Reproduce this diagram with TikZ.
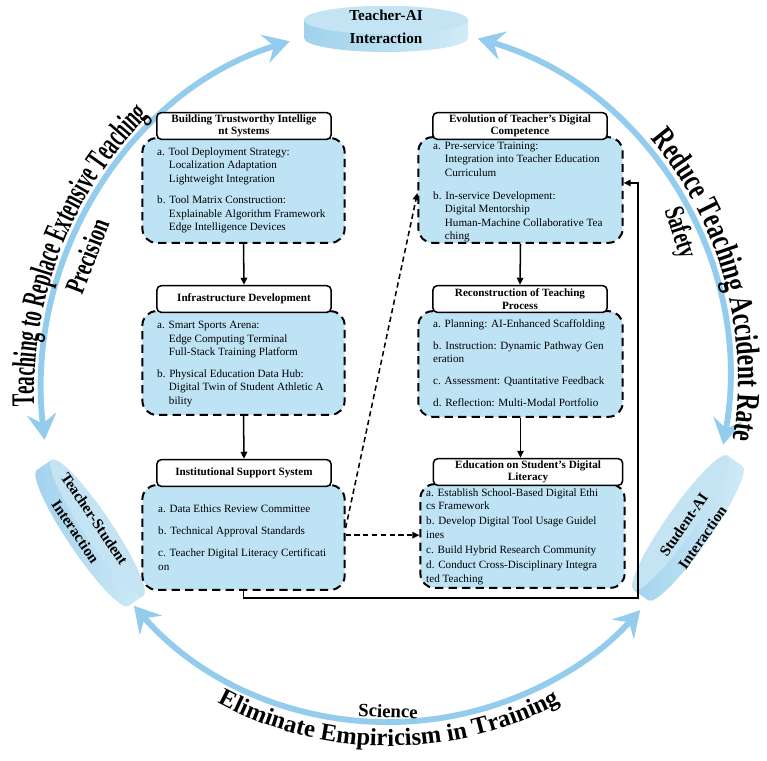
\documentclass[tikz,border=0pt]{standalone}
\usepackage{fontspec}
\setmainfont{Liberation Serif}
\newfontfamily\leftarcfam[FakeStretch=0.57]{Liberation Serif}
\newfontfamily\rightarcfam[FakeStretch=0.72]{Liberation Serif}
\newfontfamily\midarcfam[FakeStretch=0.70]{Liberation Serif}
\usetikzlibrary{arrows.meta,decorations.text}
\definecolor{bodyblue}{RGB}{189,227,245}
\definecolor{arcblue}{RGB}{148,204,238}
\definecolor{cylface}{RGB}{196,228,244}
\definecolor{cylsideA}{RGB}{160,210,236}
\definecolor{cylsideB}{RGB}{210,235,248}
\newcommand\leftarcfont{\leftarcfam\bfseries\fontsize{28}{30}\selectfont}
\newcommand\rightarcfont{\rightarcfam\bfseries\fontsize{28}{30}\selectfont}
\newcommand\midarcfont{\midarcfam\bfseries\fontsize{24}{26}\selectfont}
\newcommand\bxind{\hspace*{10pt}}
\newdimen\pxd \pxd=0.85039pt
\tikzset{
 hdr/.style={draw=black, line width=1.3pt, fill=white, rounded corners=4pt,
   minimum width=175\pxd, minimum height=27\pxd, inner sep=1pt, align=center,
   font=\bfseries\fontsize{9.5}{10.5}\selectfont},
 bodybox/.style={draw=black, line width=1.7pt, dash pattern=on 7pt off 4.5pt,
   fill=bodyblue, rounded corners=12pt, inner sep=0pt},
 bodytext/.style={anchor=west, inner sep=0pt, align=left, font=\fontsize{9.5}{11.5}\selectfont},
 flow/.style={draw=black, line width=1.3pt, -{Triangle[length=6pt,width=5.5pt]}},
 dflow/.style={flow, dash pattern=on 4.5pt off 3pt},
 bigarc/.style={draw=arcblue, line width=5pt,
   {Stealth[length=22pt,width=25pt,inset=8pt]}-{Stealth[length=22pt,width=25pt,inset=8pt]}},
 cyllabel/.style={align=center, font=\bfseries\fontsize{13}{19.5}\selectfont, inner sep=0pt},
 cylpic/.pic={
   \begin{scope}[y=0.03cm]
     \path[left color=cylsideA, right color=cylsideB]
       (-82,9) -- (-82,-9) arc[start angle=180, end angle=360, x radius=82, y radius=14]
       -- (82,9) arc[start angle=0, end angle=180, x radius=82, y radius=14] -- cycle;
     \path[fill=cylface] (0,9) ellipse[x radius=82, y radius=14];
   \end{scope}
 }
}
\begin{document}
\begin{tikzpicture}[x=0.03cm, y=-0.03cm]
\fill[white] (0,0) rectangle (767,760);
\useasboundingbox (0,0) rectangle (767,760);

% big arcs
\begin{scope}[shift={(384,395)}]
  \draw[bigarc] (-187:342 and 368) arc[start angle=-187, end angle=-106, x radius=342, y radius=368];
  \path[decorate, decoration={text along path, text align=center,
      text={|\leftarcfont|Teaching to Replace Extensive Teaching}}]
    (-201:350 and 376) arc[start angle=-201, end angle=-112, x radius=350, y radius=376];
\end{scope}
\begin{scope}[shift={(384,380)}]
  \draw[bigarc] (-74.2:345 and 355) arc[start angle=-74.2, end angle=10.5, x radius=345, y radius=355];
  \path[decorate, decoration={text along path, text align=center,
      text={|\rightarcfont|Reduce Teaching Accident Rate}}]
    (-57:354 and 366) arc[start angle=-57, end angle=25, x radius=354, y radius=366];
\end{scope}
\begin{scope}[shift={(389,384)}]
  \draw[bigarc] (-221:338) arc[start angle=-221, end angle=-318, radius=338];
  \path[decorate, decoration={text along path, text align=center,
      text={|\bfseries\fontsize{21}{24}\selectfont|Eliminate Empiricism in Training}}]
    (-228:362) arc[start angle=-228, end angle=-312, radius=362];
\end{scope}

\node[font=\midarcfont, rotate=69] (prec) at (87,256) {Precision};
\node[font=\midarcfont, rotate=-72] (saf) at (679,233) {Safety};
\node[font=\bfseries\fontsize{16}{18}\selectfont, rotate=-2] (sci) at (388,711) {Science};

% cylinders
\pic (cylT) at (386,29) {cylpic};
\pic[rotate=-56] (cylL) at (90,533) {cylpic};
\pic[rotate=55] (cylR) at (688,528) {cylpic};
\node[cyllabel] (cT) at (386,27) {Teacher-AI\\Interaction};
\node[cyllabel, rotate=-56] (cL) at (85,525) {Teacher-Student\\Interaction};
\node[cyllabel, rotate=55] (cR) at (693,531) {Student-AI\\Interaction};

% bodies
\node[bodybox, minimum width=203\pxd, minimum height=105\pxd] (B1) at (243.5,190.5) {};
\node[bodybox, minimum width=203\pxd, minimum height=104\pxd] (B2) at (243.5,363) {};
\node[bodybox, minimum width=203\pxd, minimum height=105\pxd] (B3) at (243.5,537.5) {};
\node[bodybox, minimum width=205\pxd, minimum height=106\pxd] (B4) at (520.5,190) {};
\node[bodybox, minimum width=205\pxd, minimum height=106\pxd] (B5) at (520.5,364) {};
\node[bodybox, minimum width=205\pxd, minimum height=104\pxd] (B6) at (522.5,536) {};

% headers
\node[hdr] (H1) at (244,126) {Building Trustworthy Intellige\\nt Systems};
\node[hdr] (H2) at (244,299) {Infrastructure Development};
\node[hdr] (H3) at (244,473) {Institutional Support System};
\node[hdr] (H4) at (520,126) {Evolution of Teacher's Digital\\Competence};
\node[hdr] (H5) at (520,299) {Reconstruction of Teaching\\Process};
\node[hdr, minimum width=190\pxd] (H6) at (528,472) {Education on Student's Digital\\Literacy};

% body texts
\node[bodytext] (T1) at (157,190.5) {a. Tool Deployment Strategy:\\
\bxind Localization Adaptation\\
\bxind Lightweight Integration\\[7pt]
b. Tool Matrix Construction:\\
\bxind Explainable Algorithm Framework\\
\bxind Edge Intelligence Devices};
\node[bodytext] (T2) at (157,364) {a. Smart Sports Arena:\\
\bxind Edge Computing Terminal\\
\bxind Full-Stack Training Platform\\[7pt]
b. Physical Education Data Hub:\\
\bxind Digital Twin of Student Athletic A\\
\bxind bility};
\node[bodytext] (T3) at (158,537.5) {a. Data Ethics Review Committee\\[7pt]
b. Technical Approval Standards\\[7.5pt]
c. Teacher Digital Literacy Certificati\\
on};
\node[bodytext] (T4) at (433,192) {a. Pre-service Training:\\
\bxind Integration into Teacher Education\\
\bxind Curriculum\\[8pt]
b. In-service Development:\\
\bxind Digital Mentorship\\
\bxind Human-Machine Collaborative Tea\\
\bxind ching};
\node[bodytext] (T5) at (433,363) {a. Planning: AI-Enhanced Scaffolding\\[7pt]
b. Instruction: Dynamic Pathway Gen\\
eration\\[7pt]
c. Assessment: Quantitative Feedback\\[7pt]
d. Reflection: Multi-Modal Portfolio};
\node[bodytext] (T6) at (426,536.5) {a. Establish School-Based Digital Ethi\\
cs Framework\\[1.5pt]
b. Develop Digital Tool Usage Guidel\\
ines\\[1.5pt]
c. Build Hybrid Research Community\\[1.5pt]
d. Conduct Cross-Disciplinary Integra\\
ted Teaching};

% connectors
\draw[flow] (B1.south) -- (H2.north);
\draw[flow] (B2.south) -- (H3.north);
\draw[flow] (B4.south) -- (H5.north);
\draw[flow] (B5.south) -- (H6.north -| B5.south);
\coordinate (d1s) at ([yshift=8pt]B3.east);
\coordinate (d1e) at ([yshift=-2.5pt]B4.west);
\coordinate (d2s) at ([yshift=2pt]B3.east);
\draw[dflow] (d1s) -- (d1e);
\draw[dflow] (d2s) -- (d2s -| B6.west);
\coordinate (fb) at (638,598);
\coordinate (fbe) at ([yshift=6pt]B4.east);
\draw[flow] (B3.south) |- (fb) |- (fbe);
\end{tikzpicture}
\end{document}
